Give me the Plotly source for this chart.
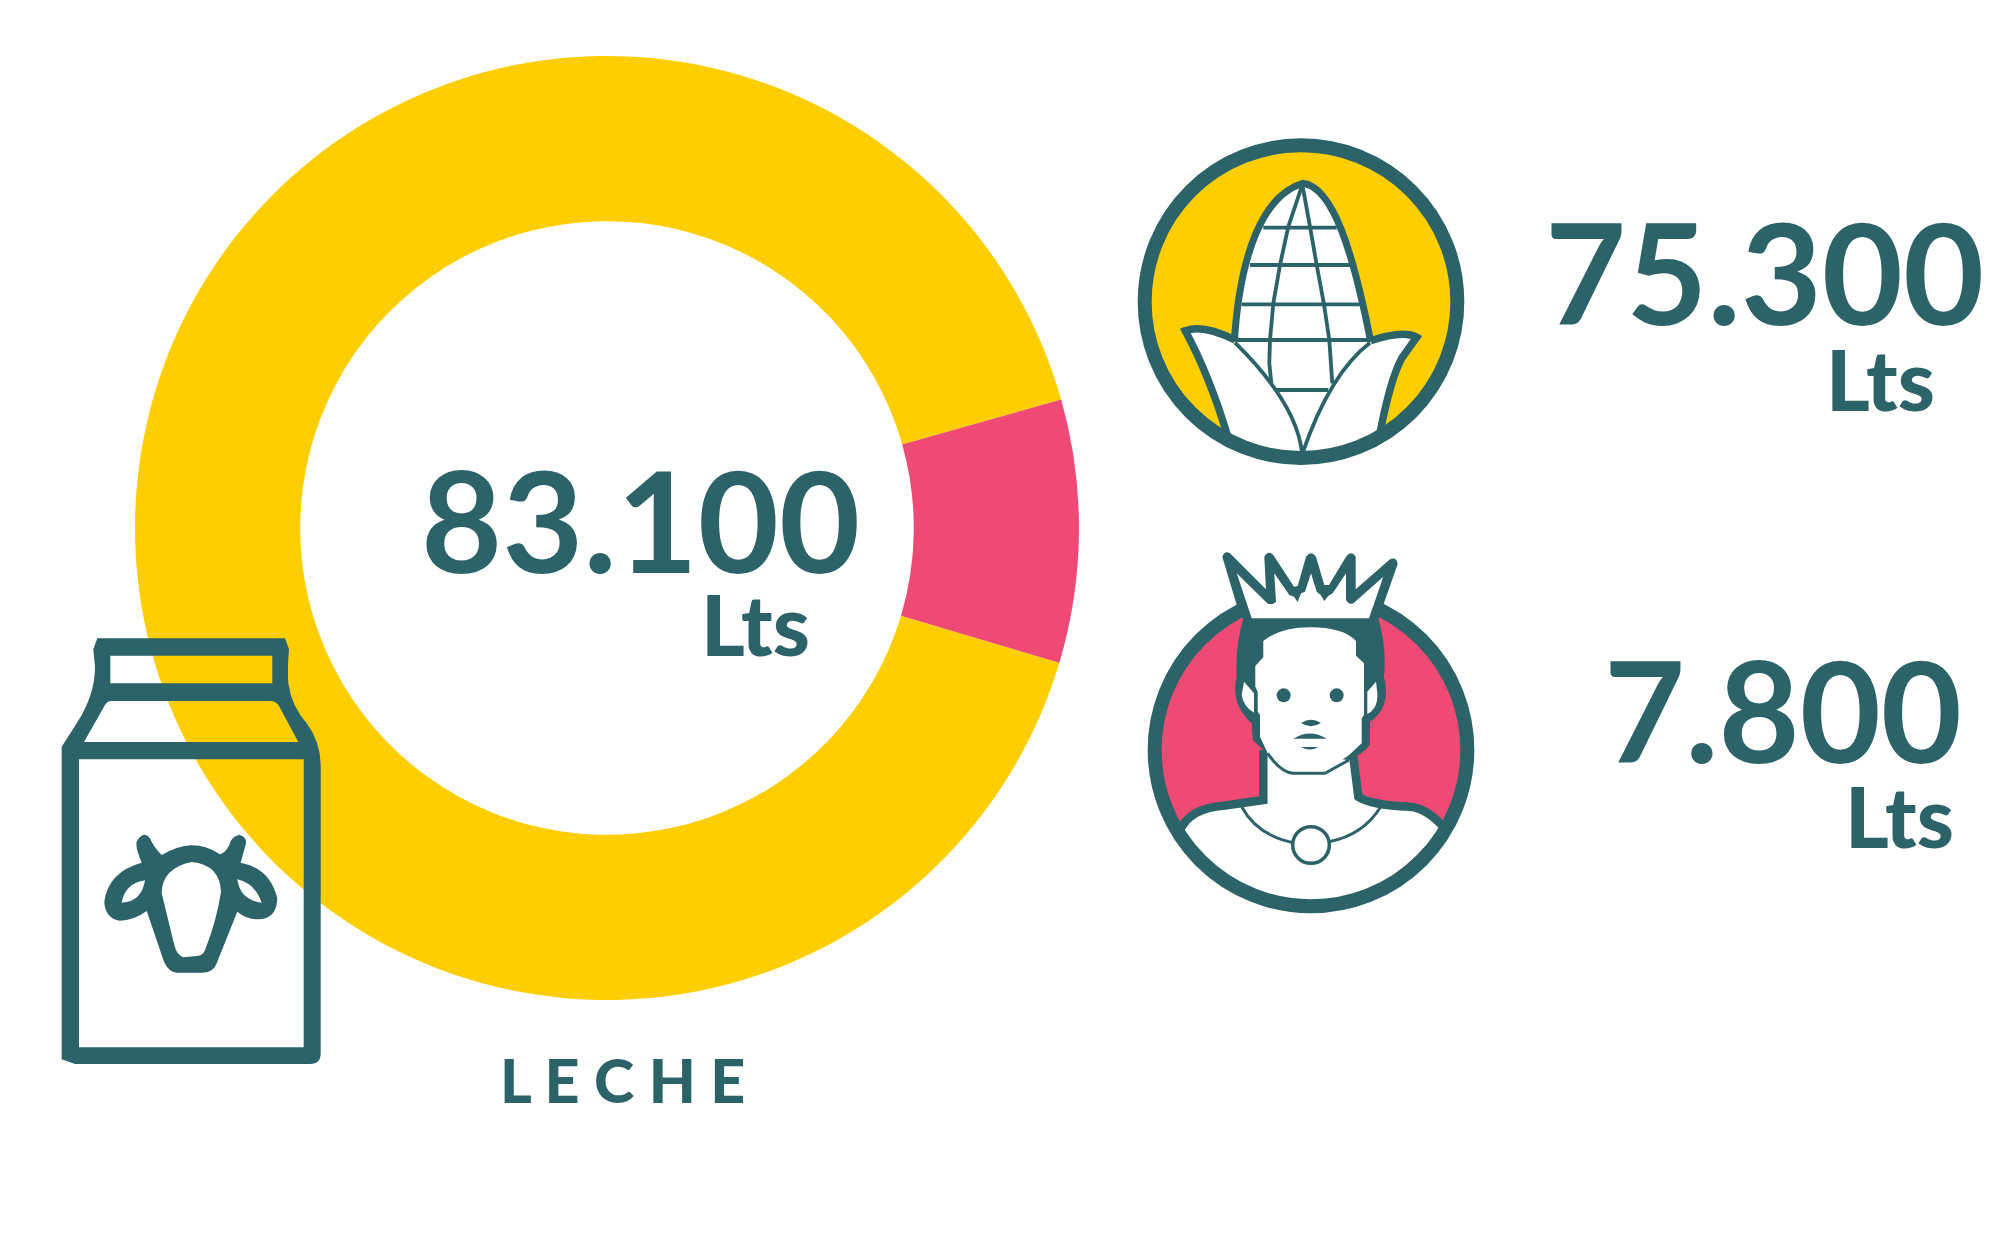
import re
import plotly.graph_objects as go

categories = ["Maíz", "Rey"]
litres = [75300, 7800]
slice_shares = [91.0, 9.0]
total_litres = 83100
unit = "Lts"
product = "L E C H E"

TEAL = "#2C6369"
YELLOW = "#FFCE00"
PINK = "#EF4A75"
W, H = 2005, 1234
CX, CY, R = 607, 528, 472


def fmt(v):
    return f"{v:,}".replace(",", ".")


def tr(path, ox, oy):
    def rep(m):
        return f"{ox + float(m.group(1)) / 3:.1f},{oy + float(m.group(2)) / 3:.1f}"
    return re.sub(r"(-?[\d.]+),(-?[\d.]+)", rep, path)


shapes = []


def add_path(path, origin, fill=None, line=None, lw=0):
    shapes.append(dict(type="path", xref="x", yref="y", layer="above",
                       path=tr(path, *origin), fillcolor=fill or "rgba(0,0,0,0)",
                       line=dict(color=line or "rgba(0,0,0,0)", width=lw)))


def add_circle(cx, cy, r, origin, fill=None, line=None, lw=0):
    ox, oy = origin
    x, y, rr = ox + cx / 3, oy + cy / 3, r / 3
    shapes.append(dict(type="circle", xref="x", yref="y", layer="above",
                       x0=x - rr, x1=x + rr, y0=y - rr, y1=y + rr,
                       fillcolor=fill or "rgba(0,0,0,0)",
                       line=dict(color=line or "rgba(0,0,0,0)", width=lw)))


# ---------- milk carton ----------
O = (40, 620)
carton = ("M172,55 L735,55 L747,88 Q742,140 745,190 Q755,260 800,310 Q842,365 842,440 L842,1300 "
          "Q842,1332 810,1332 L105,1332 L65,1318 L65,380 L110,310 Q165,225 165,140 L160,88 Z "
          "M211,107 L211,190 L697,190 L697,107 Z "
          "M132,366 L775,366 L717,258 Q708,243 690,243 L215,243 Q202,243 195,255 Z "
          "M117,418 L117,1282 L791,1282 L791,418 Z "
          "M365,705 Q410,678 455,676 Q500,676 540,703 Q555,700 568,675 Q572,650 598,644 Q620,650 618,670 "
          "L602,728 Q690,745 712,835 Q710,900 650,898 Q620,898 592,875 L530,1030 Q520,1058 490,1058 "
          "L410,1058 Q385,1055 372,1025 L320,873 Q280,902 240,902 Q195,895 193,845 Q205,755 305,728 "
          "Q285,680 290,665 Q310,630 330,655 Q340,680 365,705 Z "
          "M455,726 Q365,745 365,820 L403,975 Q410,1005 430,1012 L470,1008 Q490,1008 497,985 "
          "Q530,900 543,815 Q540,735 455,726 Z "
          "M315,781 Q255,790 245,848 Q305,845 315,781 Z "
          "M592,778 Q600,840 665,848 Q645,790 592,778 Z")
add_path(carton, O, fill=TEAL)

# ---------- corn ----------
O = (1120, 120)
add_circle(543, 545, 470, O, fill=YELLOW)
add_path("M343,660 C360,400 430,225 548,190 C640,200 700,400 752,660 L548,1000 Z", O, fill="white")
add_path("M343,665 C360,400 430,225 548,190 C640,200 700,400 752,665", O, line=TEAL, lw=7)
for y, a, b in [(323, 430, 650), (435, 390, 690), (553, 365, 720), (660, 350, 745), (810, 465, 625)]:
    add_path(f"M{a},{y} L{b},{y}", O, line=TEAL, lw=3.8)
add_path("M545,200 L505,320 L480,435 L460,550 L450,660 L448,730 L455,800", O, line=TEAL, lw=3.8)
add_path("M548,200 L570,320 L590,435 L612,553 L628,660 L637,790", O, line=TEAL, lw=3.8)
# leaves
add_path("M190,630 Q250,610 345,668 Q530,850 546,998 L560,1040 L340,1000 L330,950 Q270,750 190,630 Z", O,
         fill="white")
add_path("M890,652 Q850,620 750,668 Q630,760 548,998 L560,1040 L770,1000 L772,945 Q800,790 845,715 Z", O,
         fill="white")
add_path("M345,668 Q530,850 546,998", O, line=TEAL, lw=3.8)
add_path("M750,668 Q630,760 548,998", O, line=TEAL, lw=3.8)
add_path("M325,955 Q270,770 196,632 Q250,612 345,660", O, line=TEAL, lw=7.5)
add_path("M752,662 Q850,630 890,652 L845,715 Q810,780 778,950", O, line=TEAL, lw=7.5)
add_circle(196, 632, 11, O, fill=TEAL)
add_circle(890, 652, 11, O, fill=TEAL)
add_circle(543, 545, 469, O, line=TEAL, lw=14)

# ---------- king ----------
O = (1130, 540)
add_circle(543, 630, 470, O, fill=PINK)
add_path("M150,870 Q180,805 280,797 L400,780 L400,630 L670,650 L685,770 Q720,795 840,800 Q890,805 940,860 "
         "Q543,1335 150,870 Z", O, fill="white")
add_path("M150,870 Q180,805 280,797 L400,780 L400,630", O, line=TEAL, lw=8.5)
add_path("M670,650 L685,770 Q720,795 840,800 Q890,805 940,860", O, line=TEAL, lw=8.5)
add_circle(543, 630, 469, O, line=TEAL, lw=14)
add_path("M335,800 Q380,885 490,908", O, line=TEAL, lw=3)
add_path("M597,905 Q700,885 752,800", O, line=TEAL, lw=3)
add_circle(543, 915, 55, O, fill="white", line=TEAL, lw=3.5)
# hair and ears
add_path("M340,235 L745,235 Q770,320 762,410 Q785,500 720,545 L720,610 Q715,630 660,660 L410,640 "
         "L368,600 L365,550 Q300,490 320,410 Q315,320 340,235 Z", O, fill=TEAL)
add_path("M342,425 L335,465 Q340,500 372,518 L372,460 Z", O, fill="white")
add_path("M738,425 L712,455 L712,522 Q745,505 742,460 Z", O, fill="white")
# face
add_path("M400,303 Q450,262 540,262 Q640,262 678,303 L678,347 L702,370 L702,525 L695,535 L695,610 L657,645 "
         "Q620,670 585,700 L488,700 Q450,690 413,640 L390,590 L390,525 L383,515 L383,455 L376,440 L376,378 "
         "L400,352 Z", O, fill="white")
add_path("M413,640 Q450,695 488,700 L585,700 L657,660", O, line=TEAL, lw=3)
add_circle(461, 466, 21, O, fill=TEAL)
add_circle(620, 466, 21, O, fill=TEAL)
add_path("M513,549 Q543,530 573,549 Q543,568 513,549 Z", O, fill=TEAL)
add_path("M490,596 Q540,565 590,596 Z", O, fill=TEAL)
add_path("M513,621 L565,621 Q540,636 513,621 Z", O, fill=TEAL)
# crown: dark outline, then its white inside
add_path("M277,50 Q285,30 300,40 L408,148 L403,50 Q415,30 430,45 L492,140 L503,138 L528,50 Q543,30 558,50 "
         "L583,135 L597,135 L648,50 Q665,30 677,50 L677,148 L780,58 Q800,50 803,72 L760,195 L745,240 "
         "L340,240 L320,195 Z", O, fill=TEAL)
add_path("M320,100 L365,235 L717,235 L760,110 L672,188 Q660,198 648,180 L648,100 L608,160 L595,168 "
         "L583,183 L572,165 L560,155 L543,100 L525,155 L513,160 L503,186 L492,170 L478,165 L433,100 "
         "L438,185 Q425,198 412,190 Z", O, fill="white")


def note(text, x, y, size=140, weight=700):
    return dict(text=text, x=x, y=y, xref="x", yref="y", showarrow=False,
                xanchor="center", yanchor="middle",
                font=dict(family="Lato", size=size, color=TEAL, weight=weight))


annotations = [
    note(fmt(total_litres), 640, 519),
    note(unit, 755, 623, 84, 900),
    note(fmt(litres[0]), 1764, 271),
    note(unit, 1880, 378, 84, 900),
    note(fmt(litres[1]), 1783, 709),
    note(unit, 1899, 815, 84, 900),
    note(product, 622, 1079, 61, 900),
]

fig = go.Figure(go.Pie(
    labels=categories, values=slice_shares, hole=0.65, sort=False, direction="clockwise",
    rotation=106.6, textinfo="none", hoverinfo="skip", showlegend=False,
    marker=dict(colors=[YELLOW, PINK], line=dict(width=0)),
    domain=dict(x=[(CX - R) / W, (CX + R) / W], y=[(H - CY - R) / H, (H - CY + R) / H]),
))
fig.update_layout(
    width=W, height=H, autosize=False, margin=dict(l=0, r=0, t=0, b=0),
    paper_bgcolor="white", plot_bgcolor="rgba(0,0,0,0)",
    xaxis=dict(range=[0, W], visible=False, fixedrange=True),
    yaxis=dict(range=[H, 0], visible=False, fixedrange=True),
    shapes=shapes, annotations=annotations, showlegend=False,
)
fig.write_html("out.html", config=dict(displayModeBar=False),
               post_script="document.body.style.margin='0';document.body.style.overflow='hidden';")
